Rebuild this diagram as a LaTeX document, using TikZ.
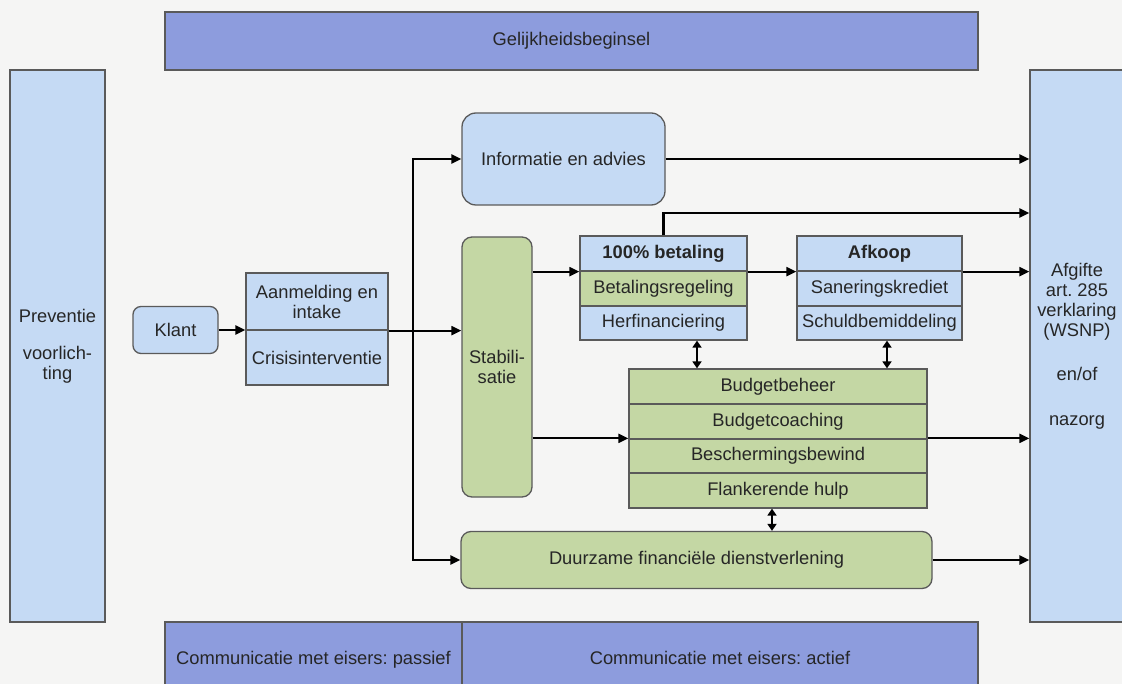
\documentclass[tikz,border=0pt]{standalone}
\usepackage{fontspec}
\setmainfont{Liberation Sans}
\frenchspacing
\usetikzlibrary{arrows.meta,calc}
\definecolor{lb}{HTML}{C5DAF4}
\definecolor{gr}{HTML}{C4D7A4}
\definecolor{pb}{HTML}{8D9CDD}
\definecolor{bd}{HTML}{5A5A5A}
\definecolor{bg}{HTML}{F5F5F4}
\begin{document}
\frenchspacing
\begin{tikzpicture}[x=1pt,y=-1pt,
  every node/.style={font=\fontsize{18.3}{20}\selectfont, text=black!85},
  box/.style={draw=bd, line width=1.3pt, inner sep=0pt, align=center},
  rbox/.style={box, rounded corners=10pt},
  combox/.style={box, fill=pb, minimum height=76pt, text height=13pt, text depth=4pt},
  arr/.style={line width=2.2pt, -{Triangle[length=10pt,width=9pt]}},
  darr/.style={line width=2.2pt, {Triangle[length=7pt,width=9pt]}-{Triangle[length=7pt,width=9pt]}}
]
\fill[bg] (0,0) rectangle (1122,684);
\useasboundingbox (0,0) rectangle (1122,684);

% frame bars and columns
\node[box, fill=pb, minimum width=813pt, minimum height=58pt] (gel) at (571.5,41) {Gelijkheidsbeginsel};
\node[box, fill=lb, minimum width=95pt, minimum height=552pt] (prev) at (57.5,346) {Preventie\\[17pt]voorlich-\\ting};
\node[box, fill=lb, minimum width=94pt, minimum height=552pt] (afg) at (1077,346) {Afgifte\\art. 285\\verklaring\\(WSNP)\\[24pt]en/of\\[25pt]nazorg};
\node[combox, minimum width=297pt] (com1) at (313.5,660) {Communicatie met eisers: passief};
\node[combox, minimum width=516pt] (com2) at (720,660) {Communicatie met eisers: actief};

% left part
\node[rbox, fill=lb, rounded corners=8pt, minimum width=85pt, minimum height=47pt] (klant) at (175.5,330) {Klant};
\node[box, fill=lb, minimum width=142pt, minimum height=57pt] (aan1) at (317,301.5) {Aanmelding en\\intake};
\node[box, fill=lb, minimum width=142pt, minimum height=55pt] (aan2) at (317,357.5) {Crisisinterventie};

% middle
\node[rbox, fill=lb, rounded corners=14pt, minimum width=203pt, minimum height=92pt] (info) at (563.5,159) {Informatie en advies};
\node[rbox, fill=gr, minimum width=70pt, minimum height=260pt] (stab) at (497,367) {Stabili-\\satie};

\node[box, fill=lb, minimum width=167pt, minimum height=35pt, font=\fontsize{18.3}{20}\selectfont\bfseries] (b1) at (663.5,253.5) {100\% betaling};
\node[box, fill=gr, minimum width=167pt, minimum height=35pt] (b2) at (663.5,288.5) {Betalingsregeling};
\node[box, fill=lb, minimum width=167pt, minimum height=34pt] (b3) at (663.5,323) {Herfinanciering};

\node[box, fill=lb, minimum width=165pt, minimum height=35pt, font=\fontsize{18.3}{20}\selectfont\bfseries] (a1) at (879.5,253.5) {Afkoop};
\node[box, fill=lb, minimum width=165pt, minimum height=35pt] (a2) at (879.5,288.5) {Saneringskrediet};
\node[box, fill=lb, minimum width=165pt, minimum height=34pt] (a3) at (879.5,323) {Schuldbemiddeling};

\node[box, fill=gr, minimum width=298pt, minimum height=35pt] (c1) at (778,386.5) {Budgetbeheer};
\node[box, fill=gr, minimum width=298pt, minimum height=35pt] (c2) at (778,421.5) {Budgetcoaching};
\node[box, fill=gr, minimum width=298pt, minimum height=34pt] (c3) at (778,456) {Beschermingsbewind};
\node[box, fill=gr, minimum width=298pt, minimum height=35pt] (c4) at (778,490.5) {Flankerende hulp};

\node[rbox, fill=gr, minimum width=471pt, minimum height=57pt] (duur) at (696.5,560) {Duurzame financi\"ele dienstverlening};

% helper coordinates
\coordinate (jc) at (413,330);
\coordinate (t2) at (663.5,213);
\coordinate (d1) at (697,0);
\coordinate (d2) at (887,0);
\coordinate (d3) at (772,0);

% connectors
\draw[arr] (klant.east) -- (klant.east -| aan1.west);
\draw[arr] (aan1.south east) -- (aan1.south east -| stab.west);
\draw[arr] (jc) |- (info.west);
\draw[arr] (jc) |- (duur.west);
\draw[arr] (info.east) -- (info.east -| afg.west);
\draw[arr] (b1.north) -- (t2) -- (t2 -| afg.west);
\draw[arr] (b1.south west -| stab.east) -- (b1.south west);
\draw[arr] (b1.south east) -- (a1.south west);
\draw[arr] (a1.south east) -- (a1.south east -| afg.west);
\draw[arr] (c3.north west -| stab.east) -- (c3.north west);
\draw[arr] (c3.north east) -- (c3.north east -| afg.west);
\draw[arr] (duur.east) -- (duur.east -| afg.west);
\draw[darr] (b3.south -| d1) -- (c1.north -| d1);
\draw[darr] (a3.south -| d2) -- (c1.north -| d2);
\draw[darr] (c4.south -| d3) -- (duur.north -| d3);
\end{tikzpicture}
\end{document}
